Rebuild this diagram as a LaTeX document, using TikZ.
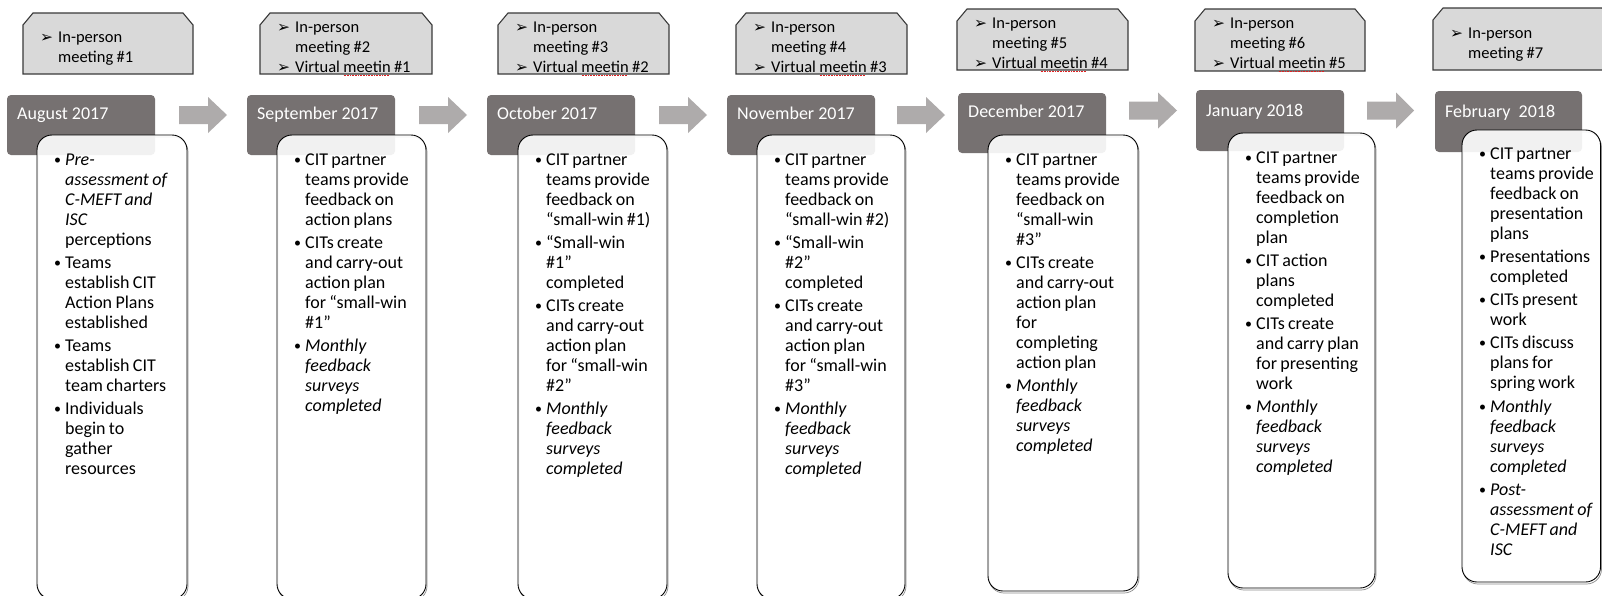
\documentclass[tikz,border=0pt]{standalone}
\usepackage{fontspec}
\setmainfont{Carlito}
\newfontfamily\dejavu{DejaVu Sans}

\definecolor{topfill}{HTML}{D9D9D9}
\definecolor{topline}{HTML}{3A3A3A}
\definecolor{monthfill}{HTML}{767171}
\definecolor{arrowfill}{HTML}{AEABAB}
\definecolor{spellred}{HTML}{E02020}

% text settings for the meeting boxes and the activity boxes
\newcommand\topset{\fontsize{16.5}{20}\selectfont\setlength{\parskip}{0pt}}
\newcommand\bodyset{\fontsize{18}{20}\selectfont\setlength{\parskip}{3.3pt}}
\newcommand\topitem{\noindent\hangindent=18pt\hangafter=1\makebox[18pt][l]{\dejavu\fontsize{15.5}{15.5}\selectfont ➢}}
\newcommand\bodyitem{\noindent\hangindent=11pt\hangafter=1\makebox[11pt][l]{\raisebox{1pt}{\fontsize{14}{14}\selectfont •}}}
% red dotted proofing mark under a word
\newcommand\spellmark[1]{\setbox0=\hbox{#1}\rlap{\raisebox{-3.5pt}{\color{spellred}\hbox to \wd0{\leaders\hbox to 1.6pt{\hss\rule{0.9pt}{0.7pt}\hss}\hfill}}}\box0\relax}

\begin{document}
\begin{tikzpicture}[x=1pt,y=-1pt,
  topbox/.style={draw=topline, fill=topfill, line width=1.1pt},
  monthbox/.style={fill=monthfill, rounded corners=4pt},
  flowarrow/.style={fill=arrowfill},
  whitebox/.style={draw=black, line width=0.9pt, fill=white, fill opacity=0.9, rounded corners=15pt},
  boxshadow/.style={draw=black!45, line width=0.7pt, rounded corners=15pt},
  toptext/.style={anchor=base west, inner sep=0pt, text width=165pt, align=left},
  monthtext/.style={anchor=base west, inner sep=0pt, text=white, font=\fontsize{18}{20}\selectfont},
  bodytext/.style={anchor=base west, inner sep=0pt, text width=135pt, align=left},
]
\useasboundingbox (0,0) rectangle (1602,595);
\clip (0,0) rectangle (1602,595);
\fill[white] (0,0) rectangle (1602,595);

% meeting boxes with snipped top corners
\foreach \l/\t/\r/\b in {23/13/193/74, 260/13/432/74, 498/13/669/74, 736/13/907/74,
                         957/9/1128/70, 1195/9/1365/71, 1433/8/1612/70}
  \draw[topbox] (\l,\b) -- (\l,\t+12) -- (\l+10,\t) -- (\r-10,\t) -- (\r,\t+12) -- (\r,\b) -- cycle;

% block arrows between the months
\foreach \l/\r/\c in {179/227/115, 419/467/115, 659/707/115, 897/945/115, 1129/1177/110.5, 1367/1414/110.5}
  \fill[flowarrow] (\l,\c-9) -- (\l+29,\c-9) -- (\l+29,\c-18) -- (\r,\c) -- (\l+29,\c+18) -- (\l+29,\c+9) -- (\l,\c+9) -- cycle;

% month headers
\foreach \l/\t/\r/\b in {7/95/155/155, 247/95/395/155, 487/95/635/155, 727/95/875/155,
                         958/93/1106/153, 1196/90/1344/151, 1435/91/1582/152}
  \fill[monthbox] (\l,\t) rectangle (\r,\b);

% activity boxes, each with a faint shadow edge
\foreach \l/\t/\r/\b in {37/135/187/599, 277/135/426/599, 518/135/667/599, 757/135/905/599,
                         988/135/1138/591, 1228/133/1375/588, 1462/130/1600.5/582}
{
  \draw[boxshadow] (\l+1,\t+2) rectangle (\r+1,\b+2);
  \draw[whitebox] (\l,\t) rectangle (\r,\b);
}

% meeting texts
\node[toptext] (meet1) at (40,42) {\topset\topitem In-person\newline meeting \#1\par};
\node[toptext] (meet2) at (277,32) {\topset\topitem In-person\newline meeting \#2\par\topitem Virtual \spellmark{meetin} \#1\par};
\node[toptext] (meet3) at (515,32) {\topset\topitem In-person\newline meeting \#3\par\topitem Virtual \spellmark{meetin} \#2\par};
\node[toptext] (meet4) at (753,32) {\topset\topitem In-person\newline meeting \#4\par\topitem Virtual \spellmark{meetin} \#3\par};
\node[toptext] (meet5) at (974,28) {\topset\topitem In-person\newline meeting \#5\par\topitem Virtual \spellmark{meetin} \#4\par};
\node[toptext] (meet6) at (1212,28) {\topset\topitem In-person\newline meeting \#6\par\topitem Virtual \spellmark{meetin} \#5\par};
\node[toptext] (meet7) at (1450,38) {\topset\topitem In-person\newline meeting \#7\par};

% month labels
\node[monthtext] (aug) at (17,119) {August 2017};
\node[monthtext] (sep) at (257,119) {September 2017};
\node[monthtext] (oct) at (497,119) {October 2017};
\node[monthtext] (nov) at (737,119) {November 2017};
\node[monthtext] (dec) at (968,117) {December 2017};
\node[monthtext] (jan) at (1206,116) {January 2018};
\node[monthtext] (feb) at (1445,117) {February\ \ 2018};

% activity lists
\node[bodytext] (act1) at (54,165) {\bodyset
\bodyitem\textit{Pre-\newline assessment of\newline C-MEFT and\newline ISC}\newline perceptions\par
\bodyitem Teams\newline establish CIT\newline Action Plans\newline established\par
\bodyitem Teams\newline establish CIT\newline team charters\par
\bodyitem Individuals\newline begin to\newline gather\newline resources\par};

\node[bodytext] (act2) at (294,165) {\bodyset
\bodyitem CIT partner\newline teams provide\newline feedback on\newline action plans\par
\bodyitem CITs create\newline and carry-out\newline action plan\newline for “small-win\newline \#1”\par
\bodyitem\textit{Monthly\newline feedback\newline surveys\newline completed}\par};

\node[bodytext] (act3) at (535,165) {\bodyset
\bodyitem CIT partner\newline teams provide\newline feedback on\newline “small-win \#1)\par
\bodyitem “Small-win\newline \#1”\newline completed\par
\bodyitem CITs create\newline and carry-out\newline action plan\newline for “small-win\newline \#2”\par
\bodyitem\textit{Monthly\newline feedback\newline surveys\newline completed}\par};

\node[bodytext] (act4) at (774,165) {\bodyset
\bodyitem CIT partner\newline teams provide\newline feedback on\newline “small-win \#2)\par
\bodyitem “Small-win\newline \#2”\newline completed\par
\bodyitem CITs create\newline and carry-out\newline action plan\newline for “small-win\newline \#3”\par
\bodyitem\textit{Monthly\newline feedback\newline surveys\newline completed}\par};

\node[bodytext] (act5) at (1005,165) {\bodyset
\bodyitem CIT partner\newline teams provide\newline feedback on\newline “small-win\newline \#3”\par
\bodyitem CITs create\newline and carry-out\newline action plan\newline for\newline completing\newline action plan\par
\bodyitem\textit{Monthly\newline feedback\newline surveys\newline completed}\par};

\node[bodytext] (act6) at (1245,163) {\bodyset
\bodyitem CIT partner\newline teams provide\newline feedback on\newline completion\newline plan\par
\bodyitem CIT action\newline plans\newline completed\par
\bodyitem CITs create\newline and carry plan\newline for presenting\newline work\par
\bodyitem\textit{Monthly\newline feedback\newline surveys\newline completed}\par};

\node[bodytext] (act7) at (1479,159) {\bodyset
\bodyitem CIT partner\newline teams provide\newline feedback on\newline presentation\newline plans\par
\bodyitem Presentations\newline completed\par
\bodyitem CITs present\newline work\par
\bodyitem CITs discuss\newline plans for\newline spring work\par
\bodyitem\textit{Monthly\newline feedback\newline surveys\newline completed}\par
\bodyitem\textit{Post-\newline assessment of\newline C-MEFT and\newline ISC}\par};
\end{tikzpicture}
\end{document}
